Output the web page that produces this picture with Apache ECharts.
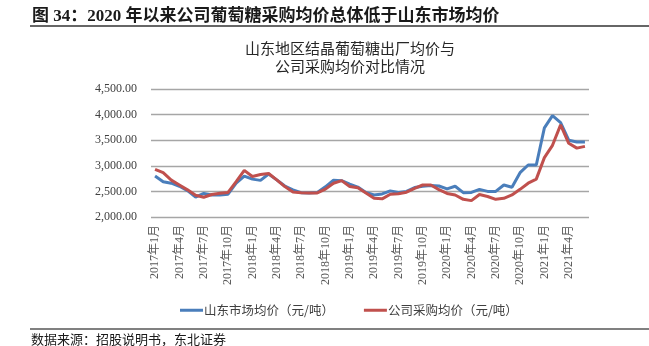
<!DOCTYPE html>
<html>
<head>
<meta charset="utf-8">
<script src="https://cdn.jsdelivr.net/npm/echarts@6/dist/echarts.min.js"></script>
<style>
  html, body { margin: 0; padding: 0; background: #fff; }
  #chart { width: 649px; height: 346px; }
</style>
</head>
<body>
<div id="chart"></div>
<script>
// Monthly categories, Jan 2017 – Jun 2021
const months = [
  '2017年1月','2017年2月','2017年3月','2017年4月','2017年5月','2017年6月',
  '2017年7月','2017年8月','2017年9月','2017年10月','2017年11月','2017年12月',
  '2018年1月','2018年2月','2018年3月','2018年4月','2018年5月','2018年6月',
  '2018年7月','2018年8月','2018年9月','2018年10月','2018年11月','2018年12月',
  '2019年1月','2019年2月','2019年3月','2019年4月','2019年5月','2019年6月',
  '2019年7月','2019年8月','2019年9月','2019年10月','2019年11月','2019年12月',
  '2020年1月','2020年2月','2020年3月','2020年4月','2020年5月','2020年6月',
  '2020年7月','2020年8月','2020年9月','2020年10月','2020年11月','2020年12月',
  '2021年1月','2021年2月','2021年3月','2021年4月','2021年5月','2021年6月'
];

// 山东市场均价（元/吨）
const marketPrice = [
  2800, 2690, 2660, 2600, 2515, 2390, 2460, 2430, 2430, 2445, 2660, 2800,
  2740, 2715, 2840, 2725, 2605, 2530, 2475, 2470, 2480, 2590, 2720, 2710,
  2640, 2585, 2480, 2430, 2450, 2510, 2480, 2500, 2575, 2600, 2615, 2605,
  2550, 2600, 2475, 2480, 2540, 2500, 2500, 2625, 2580, 2865, 3015, 3015,
  3740, 3980, 3845, 3500, 3465, 3465
];

// 公司采购均价（元/吨）
const purchasePrice = [
  2930, 2865, 2720, 2625, 2530, 2425, 2385, 2440, 2465, 2480, 2690, 2910,
  2790, 2830, 2850, 2725, 2595, 2490, 2475, 2470, 2470, 2545, 2660, 2710,
  2595, 2570, 2470, 2365, 2355, 2445, 2455, 2485, 2560, 2625, 2625, 2535,
  2460, 2430, 2345, 2320, 2440, 2400, 2345, 2365, 2430, 2540, 2660, 2740,
  3160, 3400, 3800, 3440, 3345, 3380
];

const seriesNames = ['山东市场均价（元/吨）', '公司采购均价（元/吨）'];
const yTicks = { min: 2000, max: 4500, step: 500 };

const figureTitle = '图 34：2020 年以来公司葡萄糖采购均价总体低于山东市场均价';
const chartTitle = '山东地区结晶葡萄糖出厂均价与\n公司采购均价对比情况';
const sourceNote = '数据来源：招股说明书，东北证券';

const serif = "'Liberation Serif', 'Noto Sans CJK SC', serif";
const cjk = "'Noto Sans CJK SC', sans-serif";

const chart = echarts.init(document.getElementById('chart'), null, { renderer: 'canvas' });

chart.setOption({
  animation: false,
  backgroundColor: '#ffffff',
  title: [
    {
      text: figureTitle,
      left: 27, top: 3,
      textStyle: { fontFamily: serif, fontWeight: 'bold', fontSize: 17, color: '#1a1a1a' }
    },
    {
      text: chartTitle,
      left: 345, top: 34, textAlign: 'center',
      textStyle: { fontFamily: cjk, fontWeight: 'normal', fontSize: 15, lineHeight: 18, color: '#262626' }
    }
  ],
  graphic: [
    { type: 'line', shape: { x1: 30, y1: 26, x2: 649, y2: 26 }, style: { stroke: '#333333', lineWidth: 1.5 } },
    { type: 'line', shape: { x1: 30, y1: 329, x2: 649, y2: 329 }, style: { stroke: '#808080', lineWidth: 2 } },
    {
      type: 'text', left: 31, top: 333,
      style: { text: sourceNote, font: "13px 'Noto Sans CJK SC'", fill: '#1a1a1a' }
    }
  ],
  legend: {
    left: 175, top: 299,
    icon: 'rect', itemWidth: 23, itemHeight: 3, itemGap: 30,
    textStyle: { fontFamily: cjk, fontSize: 12.5, color: '#404040', padding: [0, 0, 0, -4] },
    data: seriesNames
  },
  grid: { left: 151, right: 60, top: 89, bottom: 129, containLabel: false },
  xAxis: {
    type: 'category',
    data: months,
    boundaryGap: true,
    axisLine: { show: false },
    axisTick: { show: false },
    axisLabel: {
      interval: 2, rotate: 90, margin: 8,
      fontFamily: serif, fontSize: 12, color: '#595959'
    }
  },
  yAxis: {
    type: 'value',
    min: yTicks.min, max: yTicks.max, interval: yTicks.step,
    axisLine: { show: false },
    axisTick: { show: false },
    splitLine: { lineStyle: { color: '#a6a6a6', width: 1.3 } },
    axisLabel: {
      margin: 14, fontFamily: serif, fontSize: 12, color: '#404040',
      formatter: v => v.toLocaleString('en-US', { minimumFractionDigits: 2, maximumFractionDigits: 2 })
    }
  },
  series: [
    {
      name: seriesNames[0], type: 'line', data: marketPrice,
      showSymbol: false, symbol: 'none',
      lineStyle: { color: '#4a7ebb', width: 3 }, itemStyle: { color: '#4a7ebb' }
    },
    {
      name: seriesNames[1], type: 'line', data: purchasePrice,
      showSymbol: false, symbol: 'none',
      lineStyle: { color: '#c0504d', width: 3 }, itemStyle: { color: '#c0504d' }
    }
  ]
});
</script>
</body>
</html>
